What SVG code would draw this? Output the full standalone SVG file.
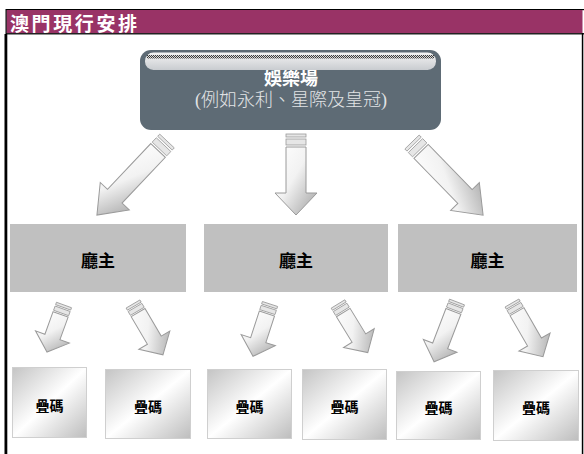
<svg xmlns="http://www.w3.org/2000/svg" width="584" height="454" viewBox="0 0 584 454">
<style>
.cjk{font-family:"Noto Sans CJK TC","Noto Sans CJK SC",sans-serif}
.owner{fill:#c0c0c0}
.ownerT{font-size:17px;font-weight:bold;fill:#000;text-anchor:middle}
.chip{fill:url(#chipG);stroke:#cfcfcf;stroke-width:1}
.chipT{font-size:14px;font-weight:bold;fill:#000;text-anchor:middle}
.arr{fill:url(#arrG);stroke:#9a9a9a;stroke-width:1}
.str{fill:#e6e6e6;stroke:#9a9a9a;stroke-width:0.8}
</style>
<defs>
<linearGradient id="chipG" x1="0" y1="0" x2="1" y2="1">
<stop offset="0" stop-color="#c4c4c4"/>
<stop offset="0.5" stop-color="#ffffff"/>
<stop offset="1" stop-color="#bdbdbd"/>
</linearGradient>
<linearGradient id="arrG" x1="0" y1="0" x2="1" y2="1">
<stop offset="0" stop-color="#ffffff"/>
<stop offset="0.45" stop-color="#f2f2f2"/>
<stop offset="1" stop-color="#a0a0a0"/>
</linearGradient>
<linearGradient id="hiG" x1="0" y1="0" x2="0" y2="1">
<stop offset="0" stop-color="#f4f4f4"/>
<stop offset="1" stop-color="#c9ccd0"/>
</linearGradient>
<pattern id="chk" width="2" height="2" patternUnits="userSpaceOnUse">
<rect width="2" height="2" fill="#d8d8d8"/>
<rect width="1" height="1" fill="#3a3a3a"/>
<rect x="1" y="1" width="1" height="1" fill="#3a3a3a"/>
</pattern>
</defs>
<rect width="584" height="454" fill="#ffffff"/>
<g id="frame">
<rect x="6" y="9" width="578" height="1.2" fill="#000"/>
<rect x="6.5" y="10" width="576" height="23.5" fill="#993366"/>
<rect x="6" y="33" width="578" height="1.5" fill="#222"/>
<rect x="4.5" y="34" width="2.8" height="420" fill="#000"/>
<rect x="5.5" y="9" width="1.2" height="26" fill="#000"/>
<rect x="581.8" y="33" width="1.5" height="421" fill="#000"/>
<text x="10" y="31" class="cjk" font-size="19" font-weight="bold" fill="#ffffff" textLength="127" lengthAdjust="spacing">澳門現行安排</text>
</g>
<g id="casino">
<rect x="140" y="50" width="301" height="80" rx="11" fill="#5e6b75"/>
<text x="291" y="85" class="cjk" font-size="18" font-weight="bold" fill="#ffffff" text-anchor="middle">娛樂場</text>
<rect x="145" y="52.5" width="291" height="17.5" rx="8.5" fill="url(#hiG)"/>
<rect x="147" y="55" width="287" height="3.5" fill="url(#chk)"/>
<text x="291" y="106" font-family="Liberation Serif,'Noto Sans CJK TC',serif" font-size="18" fill="#e2e4e6" text-anchor="middle" font-weight="300">(例如永利、星際及皇冠)</text>
</g>
<g id="connectors">
<g transform="translate(296,134)">
<rect class="str" x="-10" y="0" width="20" height="3"/>
<rect class="str" x="-10" y="5" width="20" height="6"/>
<path class="arr" d="M-10,13 H10 V59 H21 L0,81 L-21,59 H-10 Z"/>
</g>
<g transform="translate(167,141) rotate(43.4)">
<rect class="str" x="-10" y="0" width="20" height="3"/>
<rect class="str" x="-10" y="5" width="20" height="6"/>
<path class="arr" d="M-10,13 H10 V76 H20 L0,102 L-20,76 H-10 Z"/>
</g>
<g transform="translate(412,142) rotate(-44.2)">
<rect class="str" x="-10" y="0" width="20" height="3"/>
<rect class="str" x="-10" y="5" width="20" height="6"/>
<path class="arr" d="M-10,13 H10 V76 H20 L0,102 L-20,76 H-10 Z"/>
</g>
<g transform="translate(64,305) rotate(19.9)">
<rect class="str" x="-8" y="0" width="16" height="2.5"/>
<rect class="str" x="-8" y="4" width="16" height="4.5"/>
<path class="arr" d="M-8,10 H8 V34 H18 L0,50 L-18,34 H-8 Z"/>
</g>
<g transform="translate(133,304) rotate(-30.5)">
<rect class="str" x="-8" y="0" width="16" height="2.5"/>
<rect class="str" x="-8" y="4" width="16" height="4.5"/>
<path class="arr" d="M-8,10 H8 V42 H18 L0,59 L-18,42 H-8 Z"/>
</g>
<g transform="translate(270,304) rotate(18)">
<rect class="str" x="-8" y="0" width="16" height="2.5"/>
<rect class="str" x="-8" y="4" width="16" height="4.5"/>
<path class="arr" d="M-8,10 H8 V38 H18 L0,55 L-18,38 H-8 Z"/>
</g>
<g transform="translate(338,304) rotate(-31.5)">
<rect class="str" x="-8" y="0" width="16" height="2.5"/>
<rect class="str" x="-8" y="4" width="16" height="4.5"/>
<path class="arr" d="M-8,10 H8 V40 H18 L0,57 L-18,40 H-8 Z"/>
</g>
<g transform="translate(457,302) rotate(21)">
<rect class="str" x="-8" y="0" width="16" height="2.5"/>
<rect class="str" x="-8" y="4" width="16" height="4.5"/>
<path class="arr" d="M-8,10 H8 V47 H18 L0,64 L-18,47 H-8 Z"/>
</g>
<g transform="translate(512,303) rotate(-30)">
<rect class="str" x="-8" y="0" width="16" height="2.5"/>
<rect class="str" x="-8" y="4" width="16" height="4.5"/>
<path class="arr" d="M-8,10 H8 V45 H18 L0,62 L-18,45 H-8 Z"/>
</g>
</g>
<g id="owner1"><rect class="owner" x="10" y="224" width="176" height="68"/><text class="cjk ownerT" x="98" y="267">廳主</text></g>
<g id="owner2"><rect class="owner" x="204" y="224" width="184" height="68"/><text class="cjk ownerT" x="296" y="267">廳主</text></g>
<g id="owner3"><rect class="owner" x="398" y="224" width="179" height="68"/><text class="cjk ownerT" x="487.5" y="267">廳主</text></g>
<g id="chip1"><rect class="chip" x="12.5" y="367.5" width="74" height="70"/><text class="cjk chipT" x="49.5" y="411">疊碼</text></g>
<g id="chip2"><rect class="chip" x="105.5" y="369.5" width="85" height="69"/><text class="cjk chipT" x="148" y="412">疊碼</text></g>
<g id="chip3"><rect class="chip" x="207.5" y="369.5" width="84" height="69"/><text class="cjk chipT" x="249.5" y="412">疊碼</text></g>
<g id="chip4"><rect class="chip" x="302.5" y="369.5" width="84" height="70"/><text class="cjk chipT" x="344.5" y="412">疊碼</text></g>
<g id="chip5"><rect class="chip" x="396.5" y="371.5" width="84" height="68"/><text class="cjk chipT" x="438.5" y="413">疊碼</text></g>
<g id="chip6"><rect class="chip" x="493.5" y="370.5" width="85" height="70"/><text class="cjk chipT" x="536" y="413">疊碼</text></g>
</svg>
